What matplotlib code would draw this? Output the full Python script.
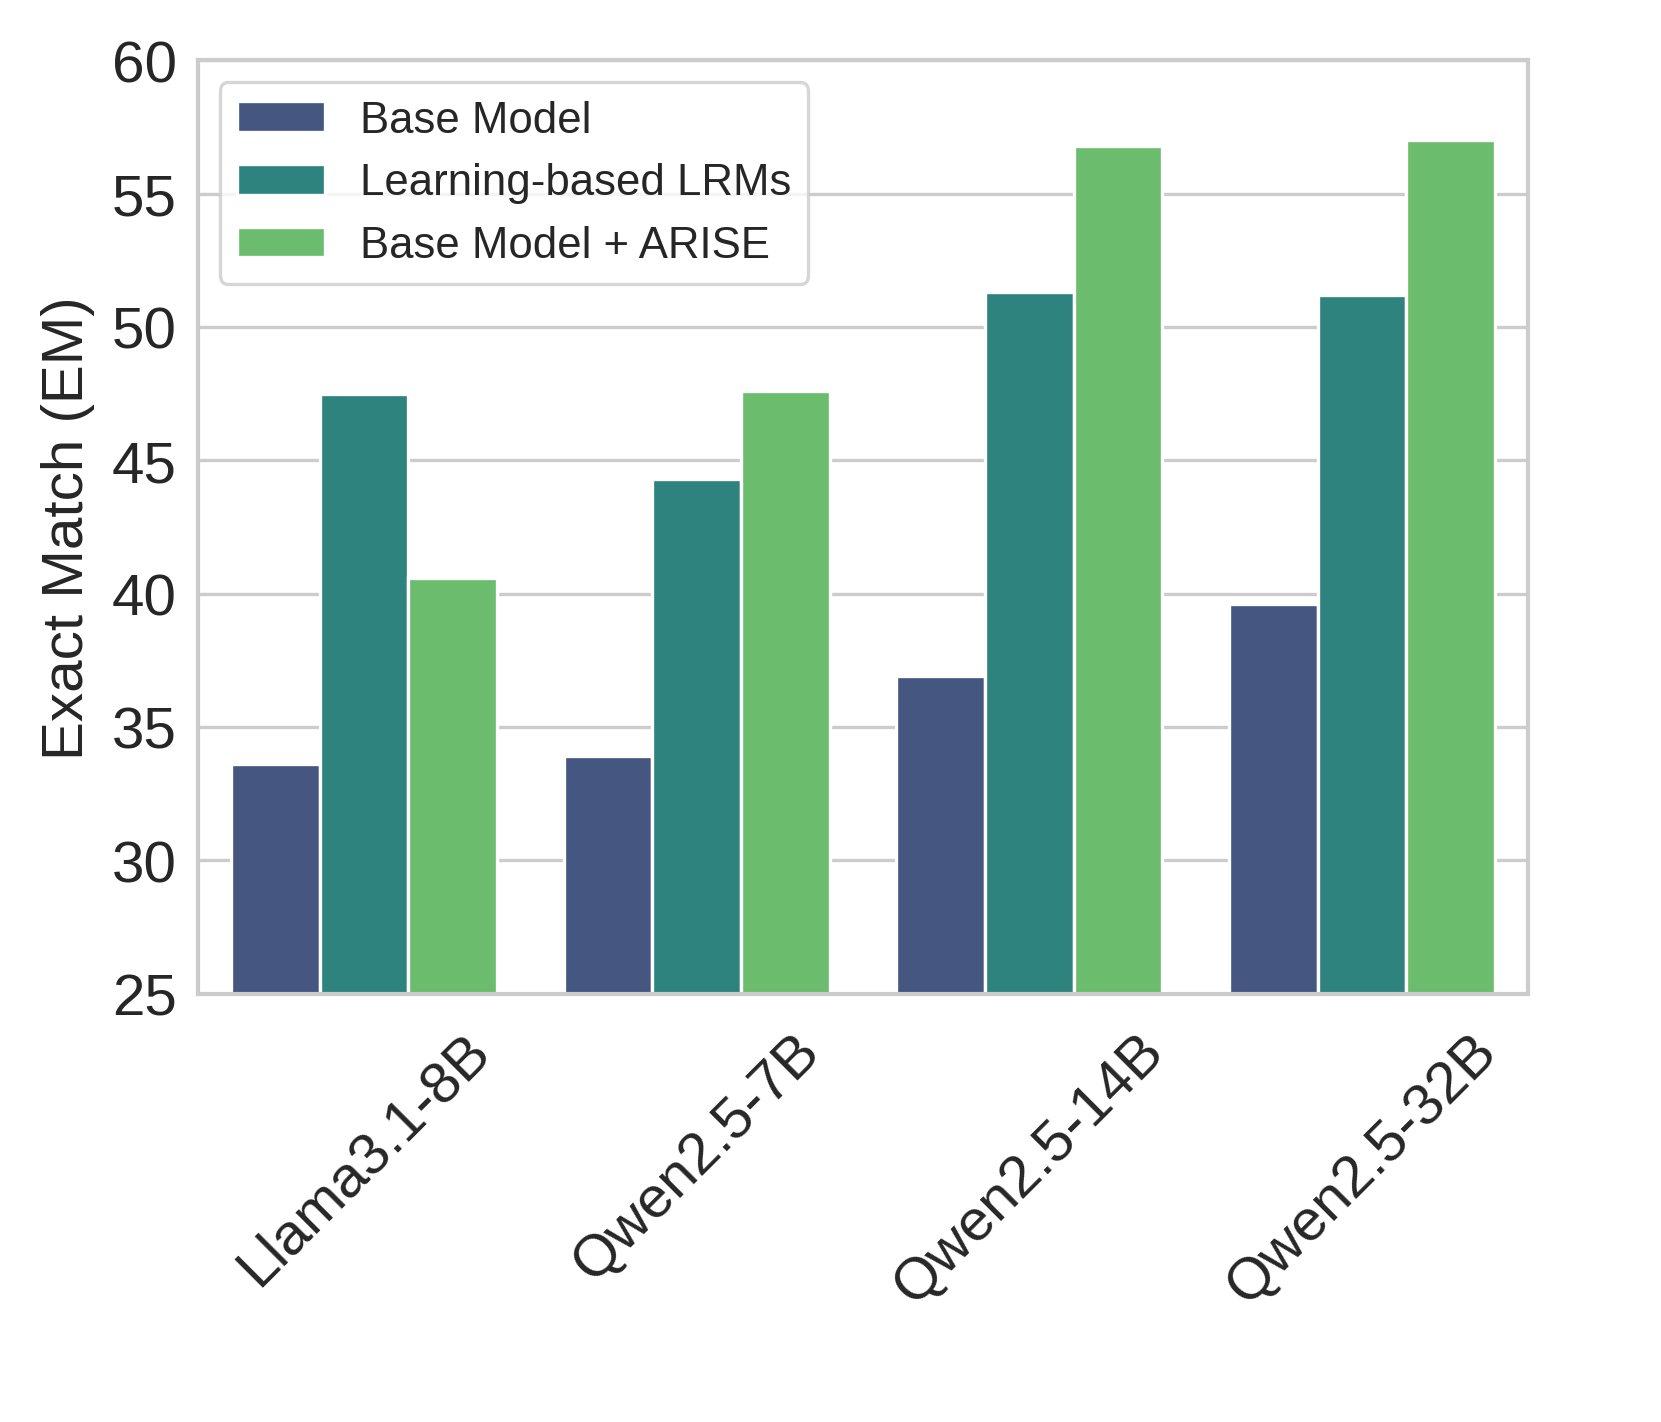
import numpy as np
import pandas as pd
import matplotlib
matplotlib.use("Agg")
import matplotlib.pyplot as plt
import seaborn as sns

# Values
models = ["Llama3.1-8B", "Qwen2.5-7B", "Qwen2.5-14B", "Qwen2.5-32B"]
methods = ["Base Model", "Learning-based LRMs", "Base Model + ARISE"]
base_em = [33.6, 33.9, 36.9, 39.6]
learning_em = [47.5, 44.3, 51.3, 51.2]
arise_em = [40.6, 47.6, 56.8, 57.0]

df = pd.DataFrame({
    "Model": models * 3,
    "Method": [m for m in methods for _ in models],
    "EM": base_em + learning_em + arise_em,
})

sns.set_theme(context="paper", style="whitegrid")
plt.rcParams["font.family"] = ["Liberation Sans", "DejaVu Sans"]

fig, ax = plt.subplots(figsize=(5.537, 4.743), dpi=300)
fig.subplots_adjust(left=0.119, right=0.920, top=0.957, bottom=0.301)

sns.barplot(data=df, x="Model", y="EM", hue="Method", palette="viridis",
            edgecolor="white", linewidth=0.8, ax=ax)

ax.set_ylim(25, 60)
ax.set_xlabel("")
ax.set_ylabel("Exact Match (EM)", fontsize=14, labelpad=4)
ax.tick_params(axis="y", labelsize=14, length=0, pad=5)
ax.tick_params(axis="x", labelsize=14, length=0, pad=7)
plt.setp(ax.get_xticklabels(), rotation=45)

ax.legend(loc="upper left", fontsize=10.5, title=None)

fig.savefig("out.png", dpi=300)
